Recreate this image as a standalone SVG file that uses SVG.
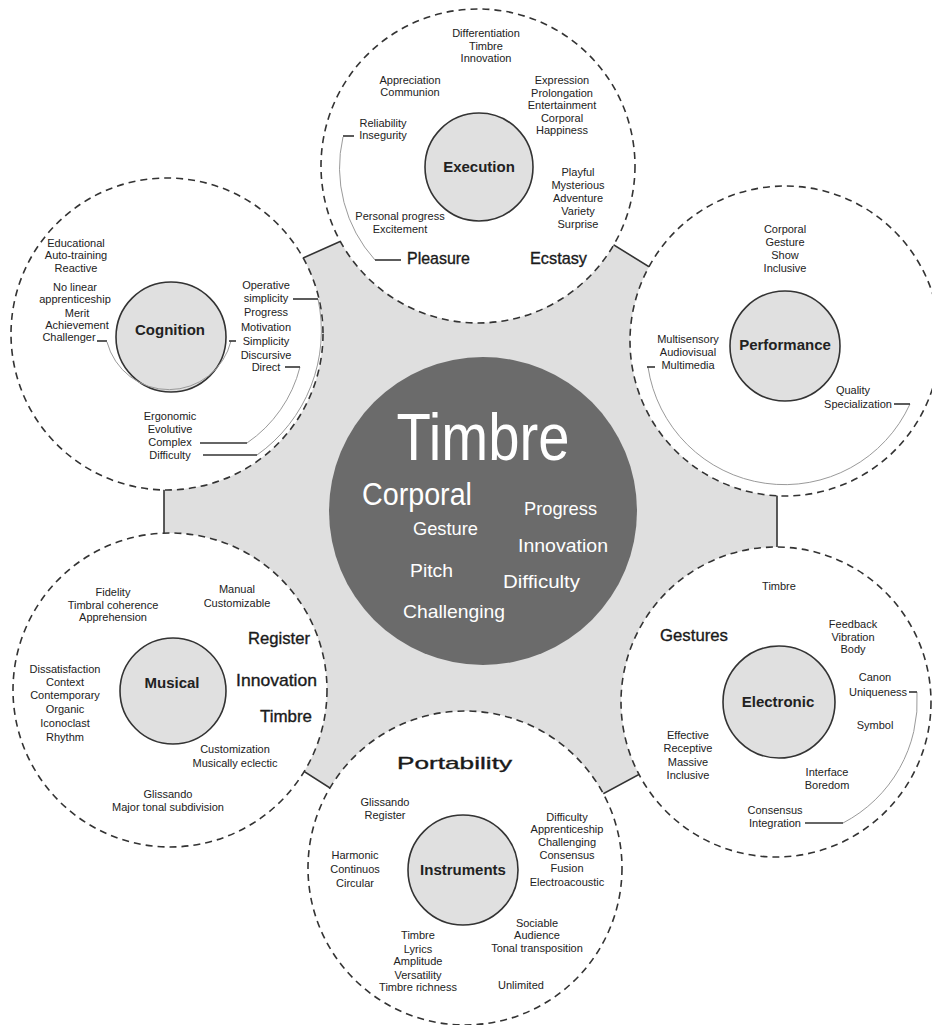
<svg xmlns="http://www.w3.org/2000/svg" width="932" height="1025" viewBox="0 0 932 1025">
<style>
.bg{fill:#fff}
.hex{fill:#dfdfdf;stroke:#333;stroke-width:1.6}
.outer{fill:#fff;stroke:#333;stroke-width:1.6;stroke-dasharray:7 5}
.inner{fill:#e0e0e0;stroke:#333;stroke-width:1.6}
.core{fill:#6b6b6b}
text{font-family:"Liberation Sans",Arial,sans-serif}
.s{font-size:11px;fill:#222;text-anchor:middle}
.b{font-size:15px;font-weight:bold;fill:#222;text-anchor:middle}
.m{font-size:17px;fill:#1a1a1a;stroke:#1a1a1a;stroke-width:0.35}
.w{fill:#fff}
.arc{fill:none;stroke:#9a9a9a;stroke-width:1}
.tk{fill:none;stroke:#333;stroke-width:1.6}
</style>
<rect class="bg" x="0" y="0" width="932" height="1025"/>
<g id="hub-background">
<polygon class="hex" points="164,320 496,172 777,346 777,700 460,871 164,682"/>
</g>
<g id="timbre-core">
<circle class="core" cx="483" cy="511" r="154"/>
<text class="w" x="483" y="460" font-size="66" text-anchor="middle" textLength="173" lengthAdjust="spacingAndGlyphs">Timbre</text>
<text class="w" x="362" y="505" font-size="31" textLength="110" lengthAdjust="spacingAndGlyphs">Corporal</text>
<text class="w" x="413" y="535" font-size="19" textLength="65" lengthAdjust="spacingAndGlyphs">Gesture</text>
<text class="w" x="524" y="515" font-size="19" textLength="73" lengthAdjust="spacingAndGlyphs">Progress</text>
<text class="w" x="518" y="552" font-size="19" textLength="90" lengthAdjust="spacingAndGlyphs">Innovation</text>
<text class="w" x="410" y="577" font-size="19" textLength="43" lengthAdjust="spacingAndGlyphs">Pitch</text>
<text class="w" x="503" y="588" font-size="19" textLength="77" lengthAdjust="spacingAndGlyphs">Difficulty</text>
<text class="w" x="403" y="618" font-size="19" textLength="102" lengthAdjust="spacingAndGlyphs">Challenging</text>
</g>
<g id="execution">
<circle class="outer" cx="478" cy="166" r="157"/>
<circle class="inner" cx="479" cy="167" r="54"/>
<text class="b" x="479" y="172">Execution</text>
<text class="s"><tspan x="486" y="37">Differentiation</tspan><tspan x="486" y="50">Timbre</tspan><tspan x="486" y="62">Innovation</tspan></text>
<text class="s"><tspan x="410" y="84">Appreciation</tspan><tspan x="410" y="96">Communion</tspan></text>
<text class="s"><tspan x="562" y="84">Expression</tspan><tspan x="562" y="97">Prolongation</tspan><tspan x="562" y="109">Entertainment</tspan><tspan x="562" y="122">Corporal</tspan><tspan x="562" y="134">Happiness</tspan></text>
<text class="s"><tspan x="383" y="127">Reliability</tspan><tspan x="383" y="139">Insegurity</tspan></text>
<text class="s"><tspan x="578" y="176">Playful</tspan><tspan x="578" y="189">Mysterious</tspan><tspan x="578" y="202">Adventure</tspan><tspan x="578" y="215">Variety</tspan><tspan x="578" y="228">Surprise</tspan></text>
<text class="s"><tspan x="400" y="220">Personal progress</tspan><tspan x="400" y="233">Excitement</tspan></text>
<text class="m" x="407" y="264" textLength="63" lengthAdjust="spacingAndGlyphs">Pleasure</text>
<text class="m" x="530" y="264" textLength="57" lengthAdjust="spacingAndGlyphs">Ecstasy</text>
</g>
<g id="cognition">
<circle class="outer" cx="167" cy="334" r="156"/>
<circle class="inner" cx="171" cy="337" r="55"/>
<text class="b" x="170" y="335">Cognition</text>
<text class="s"><tspan x="76" y="247">Educational</tspan><tspan x="76" y="259">Auto-training</tspan><tspan x="76" y="272">Reactive</tspan></text>
<text class="s"><tspan x="75" y="291">No linear</tspan><tspan x="75" y="303">apprenticeship</tspan></text>
<text class="s"><tspan x="77" y="317">Merit</tspan><tspan x="77" y="329">Achievement</tspan><tspan x="69" y="341">Challenger</tspan></text>
<text class="s"><tspan x="266" y="289">Operative</tspan><tspan x="266" y="302">simplicity</tspan><tspan x="266" y="316">Progress</tspan><tspan x="266" y="331">Motivation</tspan><tspan x="266" y="345">Simplicity</tspan><tspan x="266" y="359">Discursive</tspan><tspan x="266" y="371">Direct</tspan></text>
<text class="s"><tspan x="170" y="420">Ergonomic</tspan><tspan x="170" y="433">Evolutive</tspan><tspan x="170" y="446">Complex</tspan><tspan x="170" y="459">Difficulty</tspan></text>
</g>
<g id="performance">
<circle class="outer" cx="785" cy="341" r="155"/>
<circle class="inner" cx="785" cy="346" r="55"/>
<text class="b" x="785" y="350">Performance</text>
<text class="s"><tspan x="785" y="233">Corporal</tspan><tspan x="785" y="246">Gesture</tspan><tspan x="785" y="259">Show</tspan><tspan x="785" y="272">Inclusive</tspan></text>
<text class="s"><tspan x="688" y="343">Multisensory</tspan><tspan x="688" y="356">Audiovisual</tspan><tspan x="688" y="369">Multimedia</tspan></text>
<text class="s"><tspan x="853" y="394">Quality</tspan><tspan x="858" y="408">Specialization</tspan></text>
</g>
<g id="musical">
<circle class="outer" cx="170" cy="690" r="157"/>
<circle class="inner" cx="173" cy="691" r="53"/>
<text class="b" x="172" y="688">Musical</text>
<text class="s"><tspan x="113" y="596">Fidelity</tspan><tspan x="113" y="609">Timbral coherence</tspan><tspan x="113" y="621">Apprehension</tspan></text>
<text class="s"><tspan x="237" y="593">Manual</tspan><tspan x="237" y="607">Customizable</tspan></text>
<text class="m" x="248" y="644" textLength="62" lengthAdjust="spacingAndGlyphs">Register</text>
<text class="m" x="236" y="686" textLength="81" lengthAdjust="spacingAndGlyphs">Innovation</text>
<text class="m" x="260" y="722" textLength="52" lengthAdjust="spacingAndGlyphs">Timbre</text>
<text class="s"><tspan x="65" y="673">Dissatisfaction</tspan><tspan x="65" y="686">Context</tspan><tspan x="65" y="699">Contemporary</tspan><tspan x="65" y="713">Organic</tspan><tspan x="65" y="727">Iconoclast</tspan><tspan x="65" y="741">Rhythm</tspan></text>
<text class="s"><tspan x="235" y="753">Customization</tspan><tspan x="235" y="767">Musically eclectic</tspan></text>
<text class="s"><tspan x="168" y="798">Glissando</tspan><tspan x="168" y="811">Major tonal subdivision</tspan></text>
</g>
<g id="electronic">
<circle class="outer" cx="776" cy="702" r="155"/>
<circle class="inner" cx="779" cy="702" r="56"/>
<text class="b" x="778" y="707">Electronic</text>
<text class="s" x="779" y="590">Timbre</text>
<text class="m" x="660" y="641" textLength="68" lengthAdjust="spacingAndGlyphs">Gestures</text>
<text class="s"><tspan x="853" y="628">Feedback</tspan><tspan x="853" y="641">Vibration</tspan><tspan x="853" y="653">Body</tspan></text>
<text class="s"><tspan x="875" y="681">Canon</tspan><tspan x="878" y="696">Uniqueness</tspan></text>
<text class="s" x="875" y="729">Symbol</text>
<text class="s"><tspan x="688" y="739">Effective</tspan><tspan x="688" y="752">Receptive</tspan><tspan x="688" y="766">Massive</tspan><tspan x="688" y="779">Inclusive</tspan></text>
<text class="s"><tspan x="827" y="776">Interface</tspan><tspan x="827" y="789">Boredom</tspan></text>
<text class="s"><tspan x="775" y="814">Consensus</tspan><tspan x="775" y="827">Integration</tspan></text>
</g>
<g id="instruments">
<circle class="outer" cx="465" cy="868" r="157"/>
<circle class="inner" cx="463" cy="870" r="55"/>
<text class="b" x="463" y="875">Instruments</text>
<text class="m" x="397" y="769" font-size="25" textLength="115" lengthAdjust="spacingAndGlyphs">Portability</text>
<text class="s"><tspan x="385" y="806">Glissando</tspan><tspan x="385" y="819">Register</tspan></text>
<text class="s"><tspan x="355" y="859">Harmonic</tspan><tspan x="355" y="873">Continuos</tspan><tspan x="355" y="887">Circular</tspan></text>
<text class="s"><tspan x="567" y="821">Difficulty</tspan><tspan x="567" y="833">Apprenticeship</tspan><tspan x="567" y="846">Challenging</tspan><tspan x="567" y="859">Consensus</tspan><tspan x="567" y="872">Fusion</tspan><tspan x="567" y="886">Electroacoustic</tspan></text>
<text class="s"><tspan x="537" y="927">Sociable</tspan><tspan x="537" y="939">Audience</tspan><tspan x="537" y="952">Tonal transposition</tspan></text>
<text class="s"><tspan x="418" y="939">Timbre</tspan><tspan x="418" y="953">Lyrics</tspan><tspan x="418" y="965">Amplitude</tspan><tspan x="418" y="979">Versatility</tspan><tspan x="418" y="991">Timbre richness</tspan></text>
<text class="s" x="521" y="989">Unlimited</text>
</g>
<g id="connectors">
<path class="arc" d="M343 137 A138 138 0 0 0 375 260"/>
<line class="tk" x1="343" y1="136" x2="354" y2="136"/>
<line class="tk" x1="375" y1="260" x2="401" y2="260"/>
<path class="arc" d="M107 342 A64 64 0 0 0 231 341"/>
<line class="tk" x1="97" y1="341" x2="107" y2="341"/>
<line class="tk" x1="229" y1="341" x2="236" y2="341"/>
<path class="arc" d="M318 299 A152 152 0 0 1 257 455"/>
<line class="tk" x1="293" y1="299" x2="318" y2="299"/>
<line class="tk" x1="203" y1="455" x2="257" y2="455"/>
<path class="arc" d="M300 367 A131 131 0 0 1 247 443"/>
<line class="tk" x1="285" y1="367" x2="300" y2="367"/>
<line class="tk" x1="200" y1="443" x2="247" y2="443"/>
<path class="arc" d="M648 367 A138 138 0 0 0 910 404"/>
<line class="tk" x1="647" y1="367" x2="655" y2="367"/>
<line class="tk" x1="894" y1="404" x2="910" y2="404"/>
<path class="arc" d="M917 692 A138 138 0 0 1 843 823"/>
<line class="tk" x1="909" y1="692" x2="917" y2="692"/>
<line class="tk" x1="805" y1="823" x2="843" y2="823"/>
</g>
</svg>
